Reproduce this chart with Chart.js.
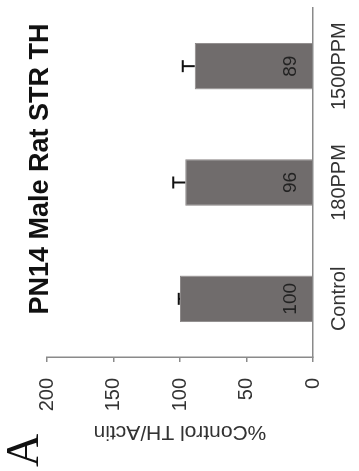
<!DOCTYPE html>
<html>
<head>
<meta charset="utf-8">
<script src="https://cdn.jsdelivr.net/npm/chart.js@4/dist/chart.umd.min.js"></script>
<style>
  html, body { margin: 0; padding: 0; background: #fff; overflow: hidden; }
  body { width: 359px; height: 471px; position: relative; }
  /* the figure is laid out upright, then turned a quarter turn to stand on its side */
  #figure {
    position: absolute; left: 0; top: 0;
    width: 471px; height: 359px;
    transform-origin: 0 0;
    transform: translate(0, 471px) rotate(-90deg);
  }
  #figure canvas { position: absolute; left: 0; top: 0; }
  #panel {
    position: absolute; left: 4px; top: 0;
    font: 46px/46px "Liberation Serif", "DejaVu Serif", serif;
    color: #111;
  }
  #title {
    position: absolute; left: 102px; top: 26px; width: 400px;
    text-align: center; white-space: nowrap;
    font: bold 27px/27px "Liberation Sans", Arial, sans-serif;
    color: #111;
  }
</style>
</head>
<body>
<div id="figure">
  <canvas id="chart" width="471" height="359"></canvas>
  <div id="panel">A</div>
  <div id="title">PN14 Male Rat STR TH</div>
</div>
<script>
// Striatal TH/actin, expressed as % of control
const categories = ['Control', '180PPM', '1500PPM'];
const meanValues = [100, 96, 89];
const errorValues = [1, 9, 9];
const valueTicks = [0, 50, 100, 150, 200];
const valueAxisTitle = '%Control TH/Actin';

const AXIS_GREY = '#8a8a8a';
const TEXT = '#333';

// Upper error whiskers with a short cap
const errorBars = {
  id: 'errorBars',
  afterDatasetsDraw(chart) {
    const { ctx } = chart;
    const yScale = chart.scales.y;
    const meta = chart.getDatasetMeta(0);
    ctx.save();
    ctx.strokeStyle = '#111';
    ctx.lineWidth = 2;
    meta.data.forEach((bar, i) => {
      const top = yScale.getPixelForValue(meanValues[i] + errorValues[i]);
      ctx.beginPath();
      ctx.moveTo(bar.x, bar.y);
      ctx.lineTo(bar.x, top);
      ctx.moveTo(bar.x - 6, top);
      ctx.lineTo(bar.x + 6, top);
      ctx.stroke();
    });
    ctx.restore();
  }
};

// Value printed inside each bar, near its base
const barValues = {
  id: 'barValues',
  afterDatasetsDraw(chart) {
    const { ctx } = chart;
    const meta = chart.getDatasetMeta(0);
    ctx.save();
    ctx.fillStyle = '#222';
    ctx.font = '19px "Liberation Sans", Arial, sans-serif';
    ctx.textAlign = 'center';
    ctx.textBaseline = 'alphabetic';
    meta.data.forEach((bar, i) => {
      ctx.fillText(String(meanValues[i]), bar.x, bar.base - 16);
    });
    ctx.restore();
  }
};

Chart.defaults.font.family = '"Liberation Sans", Arial, sans-serif';
Chart.defaults.color = TEXT;

new Chart(document.getElementById('chart'), {
  type: 'bar',
  data: {
    labels: categories,
    datasets: [{
      data: meanValues,
      backgroundColor: '#706c6c',
      borderColor: '#8c8888',
      borderWidth: 1,
      categoryPercentage: 0.8,
      barPercentage: 0.5
    }]
  },
  options: {
    responsive: false,
    animation: false,
    devicePixelRatio: 1,
    layout: { padding: { top: 47, right: 8, bottom: 0, left: 0 } },
    plugins: {
      legend: { display: false },
      tooltip: { enabled: false },
      title: { display: false }
    },
    scales: {
      x: {
        grid: { display: false, drawTicks: false },
        border: { display: true, color: AXIS_GREY, width: 1.5 },
        ticks: { padding: 14, font: { size: 20 }, color: TEXT, maxRotation: 0, autoSkip: false },
        afterFit(scale) { scale.height = 46; }
      },
      y: {
        min: 0,
        max: 200,
        afterBuildTicks(scale) { scale.ticks = valueTicks.map(v => ({ value: v })); },
        grid: { drawOnChartArea: false, drawTicks: true, tickLength: 5, color: AXIS_GREY, lineWidth: 1.5 },
        border: { display: true, color: AXIS_GREY, width: 1.5 },
        ticks: { padding: 16, font: { size: 20 }, color: TEXT },
        title: {
          display: true,
          text: valueAxisTitle,
          font: { size: 21 },
          color: TEXT,
          padding: { top: 27, bottom: 0 }
        },
        afterFit(scale) { scale.width = 114; }
      }
    }
  },
  plugins: [errorBars, barValues]
});
</script>
</body>
</html>
